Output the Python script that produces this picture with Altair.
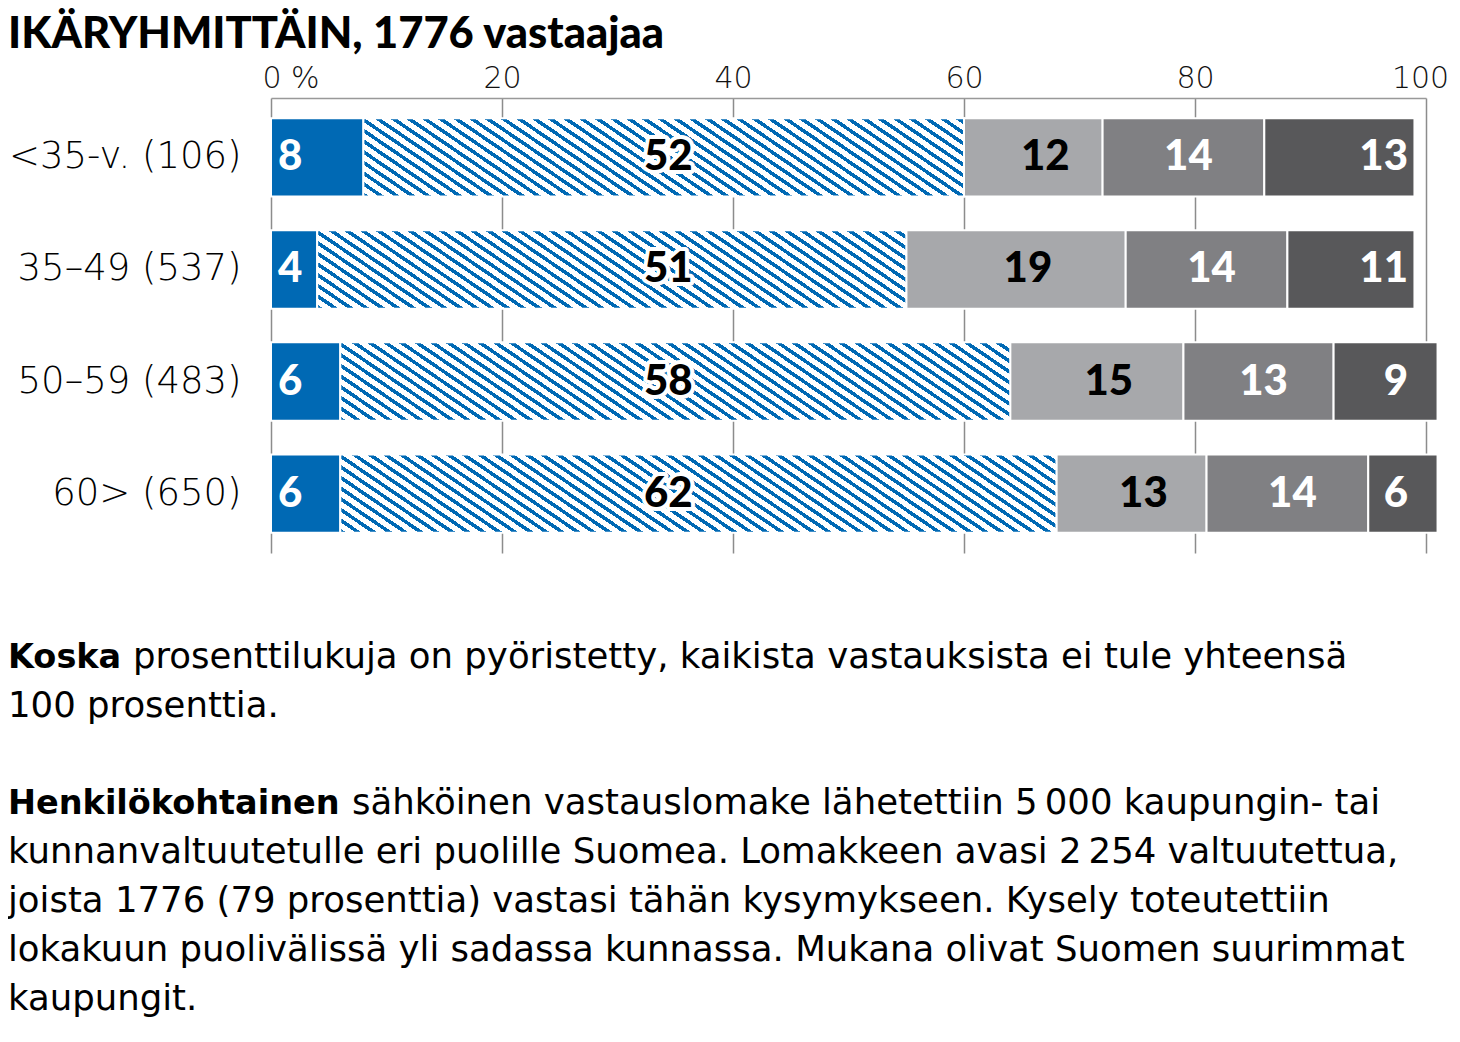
import altair as alt
import pandas as pd
import numpy as np

# ---- data ----
groups = ["<35-v. (106)", "35–49 (537)", "50–59 (483)", "60> (650)"]
v_blue = [8, 4, 6, 6]
v_hatch = [52, 51, 58, 62]
v_light = [12, 19, 15, 13]
v_mid = [14, 14, 13, 14]
v_dark = [13, 11, 9, 6]
seg_names = ["a", "b", "c", "d", "e"]
tick_values = [0, 20, 40, 60, 80, 100]

title_text = "IKÄRYHMITTÄIN, 1776 vastaajaa"
note_lines = [
    ("Koska", "prosenttilukuja on pyöristetty, kaikista vastauksista ei tule yhteensä"),
    ("", "100 prosenttia."),
    ("Henkilökohtainen", "sähköinen vastauslomake lähetettiin 5\u2009000 kaupungin- tai"),
    ("", "kunnanvaltuutetulle eri puolille Suomea. Lomakkeen avasi 2\u2009254 valtuutettua,"),
    ("", "joista 1776 (79 prosenttia) vastasi tähän kysymykseen. Kysely toteutettiin"),
    ("", "lokakuun puolivälissä yli sadassa kunnassa. Mukana olivat Suomen suurimmat"),
    ("", "kaupungit."),
]

# ---- layout / style ----
W, H = 1155, 455
PI, PO = 0.3, 0.18
step = H / (len(groups) - PI + 2 * PO)
bar_h = step * (1 - PI)
px = W / 100.0
BLUE = "#0069b4"
FONT = "Lato"
LABEL_FONT = "DejaVu Sans"
NOTE_FONT = "DejaVu Sans"

records = []
for i, g in enumerate(groups):
    vals = [v_blue[i], v_hatch[i], v_light[i], v_mid[i], v_dark[i]]
    s = 0
    for j, v in enumerate(vals):
        records.append(dict(row=g, seg=seg_names[j], value=v, start=s, end=s + v, mid=s + v / 2))
        s += v
df = pd.DataFrame(records)


def hatch(wpx, hpx, hperiod=15.7, slope=0.68, frac=0.4):
    """Diagonal stripes as a hard-stop linear gradient (bounding-box units)."""
    m = slope
    lam = (m * wpx + hpx) / (m * m * wpx * wpx + hpx * hpx)
    x2 = m * wpx * lam
    y2 = 1 - hpx * lam
    L = m * wpx + hpx
    per = m * hperiod
    stops = []
    j = 0
    while j * per / L < 1:
        t0 = j * per / L
        t1 = min((j + frac) * per / L, 1)
        t2 = min((j + 1) * per / L, 1)
        stops += [
            {"offset": t0, "color": BLUE},
            {"offset": t1, "color": BLUE},
            {"offset": t1, "color": "#ffffff"},
            {"offset": t2, "color": "#ffffff"},
        ]
        j += 1
    return {"gradient": "linear", "x1": 0, "y1": 1, "x2": x2, "y2": y2, "stops": stops}


ysc = alt.Scale(domain=groups, paddingInner=PI, paddingOuter=PO)
xsc = alt.Scale(domain=[0, 100], nice=False, zero=True)

base = alt.Chart(df)

x_axis = alt.Axis(
    orient="top", values=tick_values, ticks=False, title=None,
    labelExpr="datum.value == 0 ? '0 %' : datum.label",
    labelAlign={"expr": "datum.value == 0 ? 'left' : 'center'"},
    labelOffset={"expr": "datum.value == 0 ? -9 : (datum.value == 100 ? -6 : 0)"},
    labelFont=LABEL_FONT, labelFontSize=30, labelFontWeight=200, labelColor="#111",
    labelPadding=5, domainColor="#999", domainWidth=1.5,
    gridColor="#8c8c8c", gridWidth=1.5,
)
y_axis = alt.Axis(
    title=None, ticks=False, domain=False, labelFont=LABEL_FONT, labelFontSize=37,
    labelFontWeight=200, labelColor="#000", labelPadding=30, labelLimit=0,
)

solid = base.transform_filter(alt.datum.seg != "b").mark_bar(
    stroke="white", strokeWidth=2
).encode(
    x=alt.X("start:Q", scale=xsc, axis=x_axis),
    x2="end:Q",
    y=alt.Y("row:N", scale=ysc, axis=y_axis, sort=groups),
    color=alt.Color("seg:N", legend=None, scale=alt.Scale(
        domain=["a", "c", "d", "e"], range=[BLUE, "#a7a8ab", "#808083", "#58585a"])),
)

layers = [solid]
for i, g in enumerate(groups):
    wpx = v_hatch[i] * px
    layers.append(
        base.transform_filter((alt.datum.seg == "b") & (alt.datum.row == g)).mark_bar(
            fill=hatch(wpx, bar_h), stroke="white", strokeWidth=2
        ).encode(x=alt.X("start:Q", scale=xsc), x2="end:Q", y=alt.Y("row:N", scale=ysc, sort=groups))
    )

lab_kw = dict(font=FONT, fontSize=42, fontWeight=900, baseline="middle")
yenc = alt.Y("row:N", scale=ysc, sort=groups)

blue_lab = base.transform_filter(alt.datum.seg == "a").mark_text(
    align="left", dx=7, color="white", **lab_kw
).encode(x=alt.X("start:Q", scale=xsc), y=yenc, text="value:Q")

hatch_halo = base.transform_filter(alt.datum.seg == "b").mark_text(
    align="center", color="white", stroke="white", strokeWidth=8, strokeJoin="round", **lab_kw
).encode(x=alt.datum(34.4), y=yenc, text="value:Q")
hatch_lab = base.transform_filter(alt.datum.seg == "b").mark_text(
    align="center", color="black", **lab_kw
).encode(x=alt.datum(34.4), y=yenc, text="value:Q")

light_lab = base.transform_filter(alt.datum.seg == "c").mark_text(
    align="center", dx=12, color="black", **lab_kw
).encode(x=alt.X("mid:Q", scale=xsc), y=yenc, text="value:Q")
mid_lab = base.transform_filter(alt.datum.seg == "d").mark_text(
    align="center", dx=5, color="white", **lab_kw
).encode(x=alt.X("mid:Q", scale=xsc), y=yenc, text="value:Q")
dark_lab = base.transform_filter(alt.datum.seg == "e").mark_text(
    align="right", dx=-18, color="white", **lab_kw
).encode(x=alt.datum(100), y=yenc, text="value:Q")

layers += [blue_lab, hatch_halo, hatch_lab, light_lab, mid_lab, dark_lab]

# title and notes as text
LEFT = -263
txt = alt.Chart(pd.DataFrame({"k": [0]}))
layers.append(txt.mark_text(align="left", baseline="alphabetic", font=FONT, fontSize=43.5,
                            fontWeight=900, color="#000", text=title_text)
              .encode(x=alt.value(LEFT), y=alt.value(-50)))

baselines = [570, 619, 716, 765, 814, 863, 912]
bold_w = {"Koska": 125, "Henkilökohtainen": 344}
for (b, r), yb in zip(note_lines, baselines):
    xr = LEFT
    if b:
        layers.append(txt.mark_text(align="left", baseline="alphabetic", font=NOTE_FONT, fontSize=33.5,
                                    fontWeight="bold", color="#000", text=b)
                      .encode(x=alt.value(LEFT), y=alt.value(yb)))
        xr = LEFT + bold_w[b]
    layers.append(txt.mark_text(align="left", baseline="alphabetic", font=NOTE_FONT, fontSize=35.5,
                                color="#000", text=r)
                  .encode(x=alt.value(xr), y=alt.value(yb)))

chart = alt.layer(*layers).properties(
    width=W, height=H,
    autosize=alt.AutoSizeParams(type="none"),
    padding={"left": 263, "top": 90, "right": 23, "bottom": 475},
).configure_view(stroke=None)

chart.save("out.html", embed_options={"renderer": "svg", "actions": False})
